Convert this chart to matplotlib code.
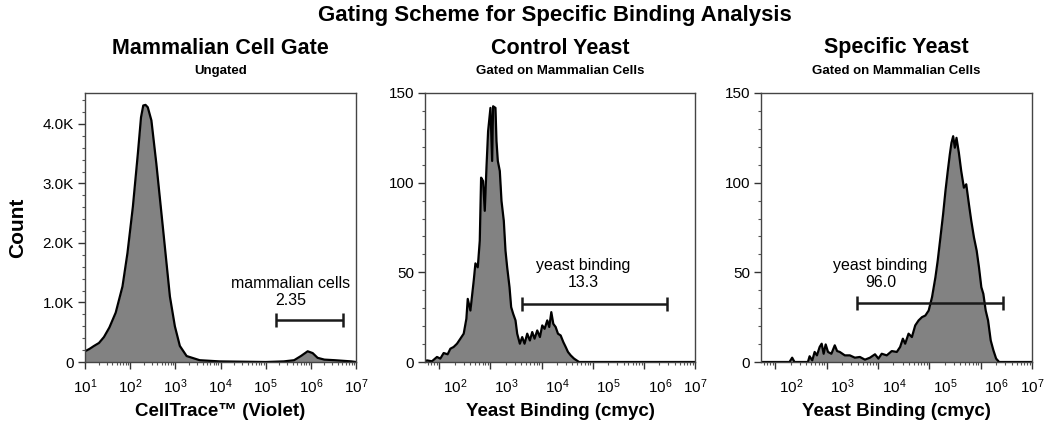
import matplotlib
matplotlib.use("Agg")
import matplotlib.pyplot as plt
import matplotlib.transforms as mtransforms
from matplotlib.ticker import FixedLocator, LogLocator, NullFormatter, MultipleLocator
import numpy as np

plt.rcParams['font.family'] = ['Liberation Sans', 'DejaVu Sans']
plt.rcParams['mathtext.fontset'] = 'custom'
plt.rcParams['mathtext.rm'] = 'Liberation Sans'
plt.rcParams['mathtext.default'] = 'regular'

# ---- data (x as log10 of fluorescence, y as counts) ----
cell_log = [1.0, 1.1, 1.2, 1.31, 1.42, 1.54, 1.68, 1.83, 1.94, 2.06, 2.17, 2.24, 2.29,
            2.34, 2.39, 2.47, 2.58, 2.73, 2.88, 2.99, 3.10, 3.25, 3.54, 3.98, 5.0, 5.4,
            5.63, 5.78, 5.93, 6.04, 6.15, 6.3, 6.53, 6.9, 7.0]
cell_count = [180, 220, 270, 320, 420, 580, 830, 1270, 1830, 2610, 3500, 4110, 4310,
              4320, 4280, 4060, 3330, 2220, 1100, 600, 270, 100, 30, 10, 0, 10,
              30, 100, 180, 150, 70, 40, 30, 10, 0]

ctrl_log = [1.73, 1.758, 1.856, 1.954, 2.020, 2.085, 2.163, 2.216, 2.281, 2.346, 2.412, 2.477,
            2.529, 2.556, 2.608, 2.673, 2.706, 2.752, 2.791, 2.817, 2.856, 2.889, 2.922,
            2.954, 3.000, 3.033, 3.052, 3.098, 3.118, 3.144, 3.183, 3.216, 3.261, 3.294,
            3.327, 3.373, 3.405, 3.444, 3.490, 3.523, 3.575, 3.621, 3.667, 3.719, 3.771,
            3.817, 3.863, 3.915, 3.967, 4.013, 4.059, 4.111, 4.150, 4.190, 4.229, 4.275,
            4.320, 4.373, 4.425, 4.471, 4.516, 4.569, 4.634, 4.732, 4.895, 7.0]
ctrl_count = [0.5, 0.9, 0.4, 2.8, 1.9, 5.0, 4.3, 7.4, 8.4, 10.2, 13.0, 15.8,
              24.1, 35.2, 28.7, 45.4, 55.0, 52.8, 67.6, 102.8, 100.9, 84.3, 108.4,
              128.7, 141.7, 112.1, 142.6, 141.7, 123.2, 112.1, 106.5, 89.8, 78.7, 62.1,
              52.8, 41.7, 30.6, 26.9, 23.2, 15.8, 10.2, 13.9, 10.2, 15.8, 12.0,
              16.7, 13.0, 17.6, 13.9, 20.4, 18.5, 23.2, 19.5, 27.8, 21.3, 19.5,
              15.8, 14.8, 11.1, 8.4, 5.6, 3.7, 1.9, 0.0, 0.0, 0.0]

spec_log = [1.72, 2.275, 2.327, 2.373, 2.634, 2.667, 2.719, 2.765, 2.810, 2.863, 2.902, 2.941,
            2.980, 3.026, 3.092, 3.157, 3.203, 3.255, 3.353, 3.451, 3.549, 3.647, 3.745,
            3.843, 3.941, 4.007, 4.072, 4.170, 4.268, 4.366, 4.431, 4.484, 4.529, 4.595,
            4.660, 4.725, 4.791, 4.856, 4.922, 4.987, 5.052, 5.118, 5.163, 5.216, 5.268,
            5.314, 5.359, 5.399, 5.431, 5.464, 5.497, 5.529, 5.575, 5.621, 5.673, 5.719,
            5.771, 5.817, 5.869, 5.922, 5.967, 6.013, 6.052, 6.098, 6.144, 6.196, 6.248,
            6.301, 6.359, 7.0]
spec_count = [0.0, 0.0, 2.4, 0.0, 0.0, 3.2, 0.9, 5.6, 3.7, 8.4, 10.2, 4.6,
              9.8, 5.6, 4.6, 9.3, 6.1, 5.6, 3.7, 3.7, 2.4, 2.8, 1.3,
              2.4, 4.3, 1.9, 4.6, 3.7, 6.1, 5.6, 8.4, 13.0, 10.2, 15.8,
              13.9, 20.4, 23.2, 25.0, 25.9, 28.7, 36.1, 47.2, 56.5, 69.5, 82.4,
              95.4, 106.5, 115.8, 122.2, 125.9, 119.5, 125.0, 116.7, 106.5, 97.2, 99.1,
              88.0, 78.7, 69.5, 62.1, 52.8, 41.7, 38.0, 28.7, 23.2, 12.0, 6.5,
              1.9, 0.0, 0.0]

titles = ['Mammalian Cell Gate', 'Control Yeast', 'Specific Yeast']
subtitles = ['Ungated', 'Gated on Mammalian Cells', 'Gated on Mammalian Cells']
xlabels = ['CellTrace\u2122 (Violet)', 'Yeast Binding (cmyc)', 'Yeast Binding (cmyc)']
gate_names = ['mammalian cells', 'yeast binding', 'yeast binding']
gate_pcts = ['2.35', '13.3', '96.0']
gate_lo = [5.23, 3.61, 3.59]
gate_hi = [6.71, 6.45, 6.43]
gate_y = [700, 32.4, 32.8]
label_pos = [(5.55, 1180), (4.82, 49.1), (4.05, 49.1)]

fig = plt.figure(figsize=(10.5, 4.38), dpi=100)
lefts = [85 / 1050, 425 / 1050, 761 / 1050]
widths = [271 / 1050, 270 / 1050, 271 / 1050]
bottom = 1 - 362 / 438
height = (362 - 93) / 438

series = [(cell_log, cell_count), (ctrl_log, ctrl_count), (spec_log, spec_count)]
for i in range(3):
    ax = fig.add_axes([lefts[i], bottom, widths[i], height])
    lx, cy = series[i]
    x = 10 ** np.array(lx)
    y = np.array(cy)
    ax.fill_between(x, y, 0, color='#828282', lw=0)
    ax.plot(x, y, color='black', lw=1.6, solid_joinstyle='round')
    ax.set_xscale('log')

    if i == 0:
        ax.set_xlim(10 ** 1, 10 ** 7)
        ax.set_ylim(0, 4520)
        ax.yaxis.set_major_locator(FixedLocator([0, 1000, 2000, 3000, 4000]))
        ax.set_yticklabels(['0', '1.0K', '2.0K', '3.0K', '4.0K'])
        ax.yaxis.set_minor_locator(MultipleLocator(200))
    else:
        ax.set_xlim(10 ** 1.72, 10 ** 7)
        ax.set_ylim(0, 150)
        ax.yaxis.set_major_locator(FixedLocator([0, 50, 100, 150]))
        ax.yaxis.set_minor_locator(MultipleLocator(10))

    decades = [1, 2, 3, 4, 5, 6, 7] if i == 0 else [2, 3, 4, 5, 6, 7]
    ax.xaxis.set_major_locator(FixedLocator([10 ** d for d in decades]))
    ax.set_xticklabels(['$10^{%d}$' % d for d in decades])
    ax.xaxis.set_minor_locator(LogLocator(base=10, subs=np.arange(2, 10), numticks=20))
    ax.xaxis.set_minor_formatter(NullFormatter())

    ax.tick_params(axis='both', which='major', direction='out', length=5, width=1,
                   color='#333333', labelsize=11, pad=3)
    ax.tick_params(axis='both', which='minor', direction='out', length=2.5, width=0.8,
                   color='#555555')
    ax.tick_params(axis='x', which='major', pad=6)
    for s in ax.spines.values():
        s.set_color('#444444')
        s.set_linewidth(1.0)

    # FlowJo-style label offset on the yeast panels
    if i > 0:
        off = mtransforms.ScaledTranslation(0.16, 0, fig.dpi_scale_trans)
        for lab in ax.get_xticklabels()[:-1]:
            lab.set_transform(lab.get_transform() + off)

    # gate bar
    lo, hi = 10 ** gate_lo[i], 10 ** gate_hi[i]
    xc = np.sqrt(lo * hi)
    ax.errorbar([xc], [gate_y[i]], xerr=[[xc - lo], [hi - xc]], fmt='none',
                ecolor='#1a1a1a', elinewidth=1.8, capsize=5, capthick=1.8)
    tx, ty = label_pos[i]
    ax.text(10 ** tx, ty, gate_names[i] + '\n' + gate_pcts[i], ha='center', va='center',
            fontsize=11.5, linespacing=1.2)

    cx = lefts[i] + widths[i] / 2
    fig.text(cx, 1 - 48 / 438, titles[i], ha='center', va='center', fontsize=15.5,
             fontweight='bold')
    fig.text(cx, 1 - 71 / 438, subtitles[i], ha='center', va='center', fontsize=9.5,
             fontweight='bold')
    fig.text(cx, 1 - 412 / 438, xlabels[i], ha='center', va='center', fontsize=13.5,
             fontweight='bold')

fig.text(0.528, 1 - 16 / 438, 'Gating Scheme for Specific Binding Analysis', ha='center',
         va='center', fontsize=16, fontweight='bold')
fig.text(18 / 1050, 1 - 228 / 438, 'Count', ha='center', va='center', rotation=90,
         fontsize=15, fontweight='bold')

fig.savefig('out.png', dpi=100)
